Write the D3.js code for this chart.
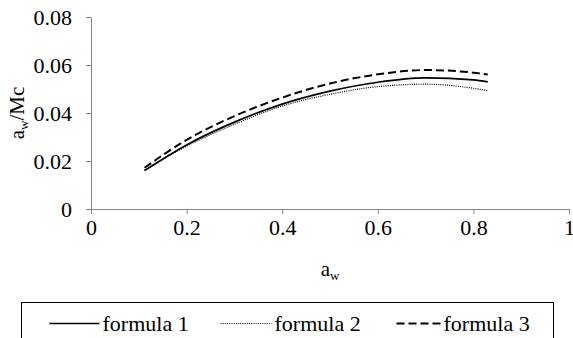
<!DOCTYPE html>
<html>
<head>
<meta charset="utf-8">
<script src="https://cdn.jsdelivr.net/npm/d3@7"></script>
<style>
  body { margin: 0; background: #fff; }
</style>
</head>
<body>
<svg id="chart"></svg>
<script>
// data
var aw = [0.112, 0.2, 0.3, 0.4, 0.5, 0.6, 0.7, 0.8, 0.83];
var formula1 = [0.0160, 0.0267, 0.0362, 0.0437, 0.0491, 0.0528, 0.0546, 0.0538, 0.0530];
var formula2 = [0.0163, 0.0262, 0.0353, 0.0429, 0.0478, 0.0510, 0.0520, 0.0503, 0.0493];
var formula3 = [0.0172, 0.0288, 0.0387, 0.0464, 0.0523, 0.0561, 0.0579, 0.0568, 0.0560];
var seriesNames = ["formula 1", "formula 2", "formula 3"];
var xTicks = [0, 0.2, 0.4, 0.6, 0.8, 1];
var yTicks = [0, 0.02, 0.04, 0.06, 0.08];

var W = 573, H = 338;
var margin = { top: 17, right: 4, bottom: 129, left: 91 };
var width = W - margin.left - margin.right;
var height = H - margin.top - margin.bottom;
var fontFam = "Liberation Serif";

var svg = d3.select("#chart")
    .attr("width", W).attr("height", H)
    .style("font-family", fontFam);
var g = svg.append("g")
    .attr("transform", "translate(" + margin.left + "," + margin.top + ")");

var xScale = d3.scaleLinear().domain([0, 1]).range([0, width]);
var yScale = d3.scaleLinear().domain([0, 0.08]).range([height, 0]);

var fmt = function(d){ return d === 0 ? "0" : d === 1 ? "1" : d3.format(".1f")(d); };
var fmtY = function(d){ return d === 0 ? "0" : d3.format(".2f")(d); };

var xAxisG = g.append("g")
    .attr("transform", "translate(0," + height + ")")
    .call(d3.axisBottom(xScale).tickValues(xTicks).tickFormat(fmt).tickSize(5).tickPadding(5));
var yAxisG = g.append("g")
    .call(d3.axisLeft(yScale).tickValues(yTicks).tickFormat(fmtY).tickSize(5).tickPadding(14));

[xAxisG, yAxisG].forEach(function(a){
    a.attr("font-family", null).attr("font-size", null);
    a.selectAll(".domain").attr("stroke", "#868686").attr("stroke-width", 1);
    a.selectAll(".tick line").attr("stroke", "#868686");
    a.selectAll("text")
        .attr("font-size", 22)
        .style("font-family", fontFam)
        .attr("fill", "#000");
});
// plain domain lines without end caps
xAxisG.select(".domain").attr("d", "M0.5,0.5H" + (width + 0.5));
yAxisG.select(".domain").attr("d", "M0.5,0.5V" + (height + 0.5));

// axis titles
var xt = svg.append("text")
    .attr("x", 330).attr("y", 276)
    .attr("text-anchor", "middle")
    .attr("font-size", 21)
    .style("font-family", fontFam);
xt.append("tspan").text("a");
xt.append("tspan").attr("font-size", 13).attr("dy", 4).text("w");

var yt = svg.append("text")
    .attr("transform", "translate(24," + (margin.top + height / 2) + ") rotate(-90)")
    .attr("text-anchor", "middle")
    .attr("font-size", 21)
    .style("font-family", fontFam);
yt.append("tspan").text("a");
yt.append("tspan").attr("font-size", 13).attr("dy", 4).text("w");
yt.append("tspan").attr("dy", -4).text("/Mc");

// lines
var styles = [
    { width: 1.7, dash: null },
    { width: 1.2, dash: "1,1.2" },
    { width: 2, dash: "8,4" }
];
var allSeries = [formula1, formula2, formula3];

var line = d3.line()
    .x(function(d){ return xScale(d[0]); })
    .y(function(d){ return yScale(d[1]); })
    .curve(d3.curveMonotoneX);

allSeries.forEach(function(s, i){
    g.append("path")
        .datum(d3.zip(aw, s))
        .attr("fill", "none")
        .attr("stroke", "#000")
        .attr("stroke-width", styles[i].width)
        .attr("stroke-dasharray", styles[i].dash)
        .attr("d", line);
});

// legend
var legendG = svg.append("g").attr("transform", "translate(21.5,302.5)");
legendG.append("rect")
    .attr("width", 532).attr("height", 60)
    .attr("fill", "none").attr("stroke", "#000").attr("stroke-width", 1);

var legX = [28, 199, 375];
var legLen = [50, 51, 44];
seriesNames.forEach(function(name, i){
    var it = legendG.append("g").attr("transform", "translate(" + legX[i] + ",21)");
    it.append("line")
        .attr("x1", 0).attr("x2", legLen[i]).attr("y1", 0).attr("y2", 0)
        .attr("stroke", "#000")
        .attr("stroke-width", i === 1 ? 1 : styles[i].width)
        .attr("stroke-dasharray", styles[i].dash);
    it.append("text")
        .attr("x", legLen[i] + 3).attr("y", 7)
        .attr("font-size", 22)
        .style("font-family", fontFam)
        .text(name);
});
</script>
</body>
</html>
